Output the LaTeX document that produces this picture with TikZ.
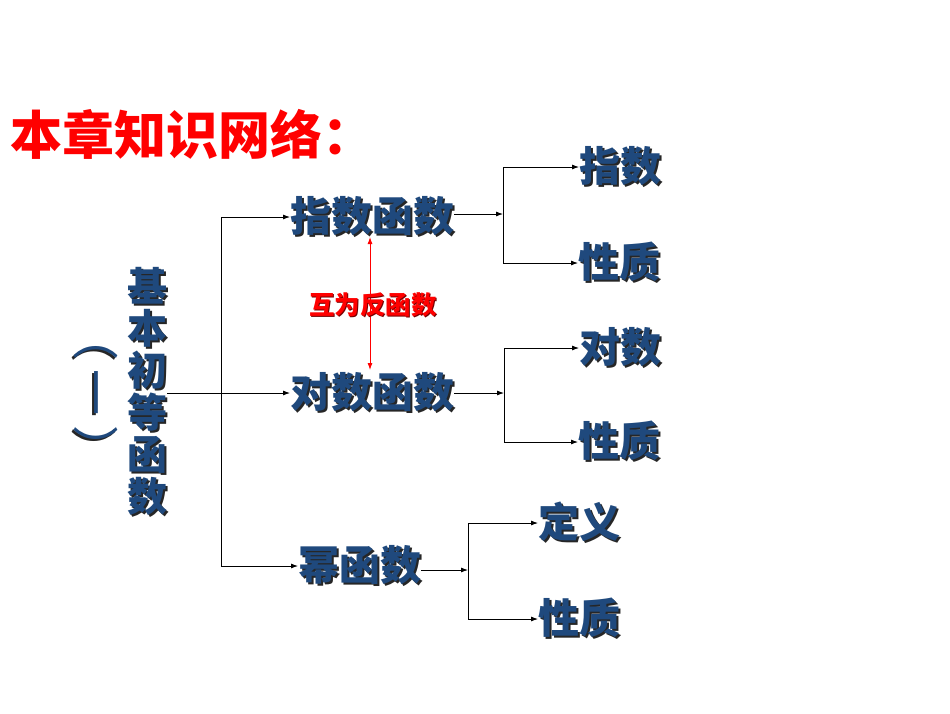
\documentclass[tikz,border=0pt]{standalone}
\usepackage{fontspec}
\newfontfamily\cjk{Noto Sans CJK SC}
\usetikzlibrary{arrows.meta}
\definecolor{nodeblue}{RGB}{31,73,125}
\definecolor{titlered}{RGB}{255,0,0}
\newcommand{\shtext}[1]{\makebox[0pt][l]{\hspace{2pt}\raisebox{-2pt}{\color{black!85}#1}}{\color{nodeblue}#1}}
\newcommand{\rshtext}[1]{\makebox[0pt][l]{\hspace{1.2pt}\raisebox{-1.2pt}{\color{red!45!black}#1}}{\color{titlered}#1}}
\tikzset{
  lbl/.style={inner sep=0pt, anchor=west, font=\cjk\bfseries\fontsize{41}{41}\selectfont},
  conn/.style={draw=black, line width=0.8pt},
  arr/.style={conn, -{Latex[length=7pt,width=5pt]}},
  redarr/.style={draw=titlered, line width=0.9pt, {Latex[length=7pt,width=5pt]}-{Latex[length=7pt,width=5pt]}},
}
\begin{document}
\begin{tikzpicture}[x=1pt,y=-1pt]
\useasboundingbox (0,0) rectangle (950,713);
% title
\node[inner sep=0pt, anchor=west, text=titlered, font=\cjk\bfseries\fontsize{52}{52}\selectfont] (title) at (10,134) {本章知识网络：};
% vertical title
\node[inner sep=0pt, align=center, font=\cjk\bfseries\fontsize{40}{42}\selectfont] (vt) at (147,392) {\shtext{基}\\\shtext{本}\\\shtext{初}\\\shtext{等}\\\shtext{函}\\\shtext{数}};
\node[inner sep=0pt, rotate=-90, font=\cjk\fontsize{46}{46}\selectfont] (paren) at (95,393) {\shtext{（\hspace{10pt}一\hspace{10pt}）}};
% main nodes
\node[lbl] (zsfun) at (290,217) {\shtext{指数函数}};
\node[lbl] (dsfun) at (290,393) {\shtext{对数函数}};
\node[lbl] (mifun) at (298,566) {\shtext{幂函数}};
% leaves
\node[lbl] (zs)  at (579,167) {\shtext{指数}};
\node[lbl] (xz1) at (578,263) {\shtext{性质}};
\node[lbl] (ds)  at (579,348) {\shtext{对数}};
\node[lbl] (xz2) at (578,442) {\shtext{性质}};
\node[lbl] (dy)  at (538,523) {\shtext{定义}};
\node[lbl] (xz3) at (538,619) {\shtext{性质}};
% left tree
\coordinate (lt) at (221,217);
\coordinate (lb) at (221,566);
\draw[conn] (lt) -- (lb);
\draw[arr] (vt.east |- dsfun.west) -- (dsfun.west);
\draw[arr] (lt) -- (zsfun.west);
\draw[arr] (lb) -- (mifun.west);
% branch of zsfun
\coordinate (j1) at (503,214);
\draw[arr] (zsfun.east |- j1) -- (j1);
\draw[conn] (zs.west -| j1) -- (xz1.west -| j1);
\draw[arr] (zs.west -| j1) -- (zs.west);
\draw[arr] (xz1.west -| j1) -- (xz1.west);
% branch of dsfun
\coordinate (j2) at (504,393);
\draw[arr] (dsfun.east |- j2) -- (j2);
\draw[conn] (ds.west -| j2) -- (xz2.west -| j2);
\draw[arr] (ds.west -| j2) -- (ds.west);
\draw[arr] (xz2.west -| j2) -- (xz2.west);
% branch of mifun
\coordinate (j3) at (468,570);
\draw[arr] (mifun.east |- j3) -- (j3);
\draw[conn] (dy.west -| j3) -- (xz3.west -| j3);
\draw[arr] (dy.west -| j3) -- (dy.west);
\draw[arr] (xz3.west -| j3) -- (xz3.west);
% inverse relation
\coordinate (rtop) at (370,237);
\coordinate (rbot) at (370,370);
\draw[redarr] (rtop) -- (rbot);
\node[inner sep=0pt, font=\cjk\bfseries\fontsize{25.5}{25.5}\selectfont] (inv) at (373,305) {\rshtext{互为反函数}};
\end{tikzpicture}
\end{document}
